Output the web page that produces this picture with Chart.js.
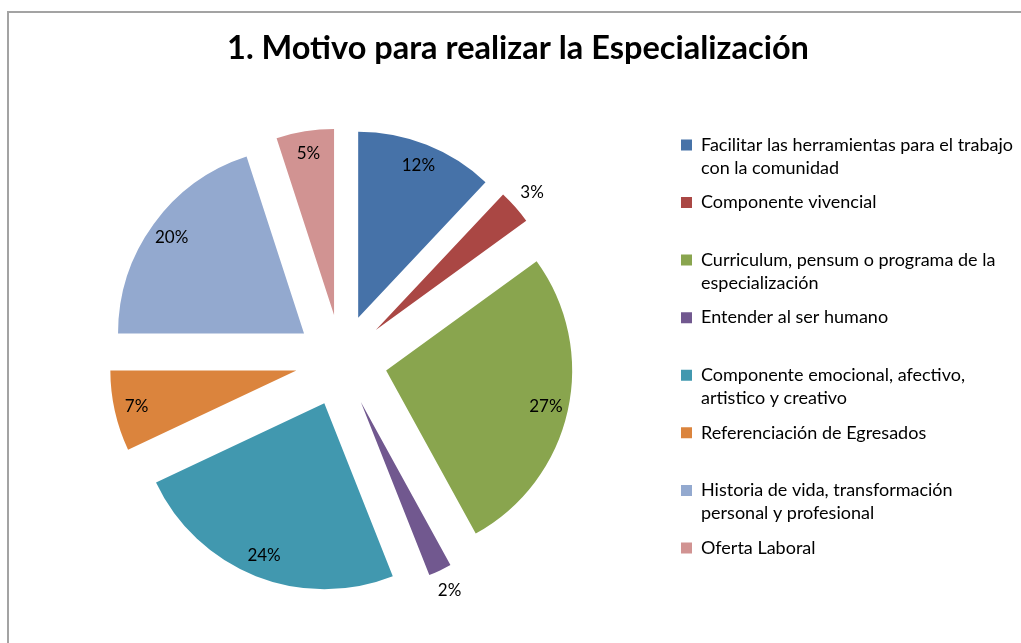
<!DOCTYPE html>
<html>
<head>
<meta charset="utf-8">
<script src="https://cdn.jsdelivr.net/npm/chart.js@4/dist/chart.umd.min.js"></script>
<style>
  html, body { margin: 0; padding: 0; background: #fff; overflow: hidden; }
  body { width: 1021px; height: 643px; position: relative; }
  #frame {
    position: absolute; left: 7px; top: 11px;
    border-left: 2px solid #a3a3a3; border-top: 2px solid #a3a3a3;
  }
  #frame canvas { display: block; }
</style>
</head>
<body>
<div id="frame"><canvas id="pieChart" width="1026" height="640"></canvas></div>
<script>
const chartTitle = '1. Motivo para realizar la Especialización';

const categories = [
    ['Facilitar las herramientas para el trabajo', 'con la comunidad'],
    ['Componente vivencial'],
    ['Curriculum, pensum o programa de la', 'especialización'],
    ['Entender al ser humano'],
    ['Componente emocional, afectivo,', 'artistico y creativo'],
    ['Referenciación de Egresados'],
    ['Historia de vida, transformación', 'personal y profesional'],
    ['Oferta Laboral']
];

const percentages = [12, 3, 27, 2, 24, 7, 20, 5];

const sliceColors = ['#4672A8', '#AA4744', '#89A54E', '#71588F', '#4198AF', '#DB843D', '#93A9CF', '#D19392'];

// push every slice away from the centre, like an exploded Excel pie
const explodePlugin = {
    id: 'explode',
    afterDatasetUpdate(chart, args, opts) {
        args.meta.data.forEach(arc => {
            const mid = (arc.startAngle + arc.endAngle) / 2;
            arc.x += Math.cos(mid) * opts.distance;
            arc.y += Math.sin(mid) * opts.distance;
        });
    }
};

// percentage labels, inside big slices and just outside the thin ones
const sliceLabels = {
    id: 'sliceLabels',
    afterDatasetsDraw(chart) {
        const ctx = chart.ctx;
        const meta = chart.getDatasetMeta(0);
        const values = chart.data.datasets[0].data;
        ctx.save();
        ctx.font = '17px Lato';
        ctx.fillStyle = '#000';
        ctx.textAlign = 'center';
        ctx.textBaseline = 'middle';
        meta.data.forEach((arc, i) => {
            const mid = (arc.startAngle + arc.endAngle) / 2;
            const r = arc.outerRadius * (values[i] < 4 ? 1.12 : 0.88);
            ctx.fillText(values[i] + '%', arc.x + Math.cos(mid) * r, arc.y + Math.sin(mid) * r);
        });
        ctx.restore();
    }
};

document.addEventListener('DOMContentLoaded', () => {
    const ctx = document.getElementById('pieChart').getContext('2d');

    new Chart(ctx, {
        type: 'pie',
        data: {
            labels: categories,
            datasets: [{
                data: percentages,
                backgroundColor: sliceColors,
                borderWidth: 0,
                radius: 186
            }]
        },
        options: {
            responsive: false,
            animation: false,
            events: [],
            layout: {
                padding: { left: 4, right: 12, top: 0, bottom: 16 }
            },
            plugins: {
                explode: { distance: 46 },
                tooltip: { enabled: false },
                title: {
                    display: true,
                    text: chartTitle,
                    color: '#000',
                    font: { family: 'Lato', size: 32.5, weight: 'bold' },
                    padding: { top: 16, bottom: 16 }
                },
                legend: {
                    position: 'right',
                    fullSize: false,
                    labels: {
                        color: '#000',
                        font: { family: 'Lato', size: 18, lineHeight: 1.28 },
                        boxWidth: 11,
                        boxHeight: 11,
                        padding: 11.5,
                        generateLabels(chart) {
                            const items = Chart.overrides.pie.plugins.legend.labels.generateLabels(chart);
                            items.forEach(item => {
                                const lines = [].concat(item.text);
                                while (lines.length < 2) lines.push('');
                                item.text = lines;
                            });
                            return items;
                        }
                    }
                }
            }
        },
        plugins: [explodePlugin, sliceLabels]
    });
});
</script>
</body>
</html>
